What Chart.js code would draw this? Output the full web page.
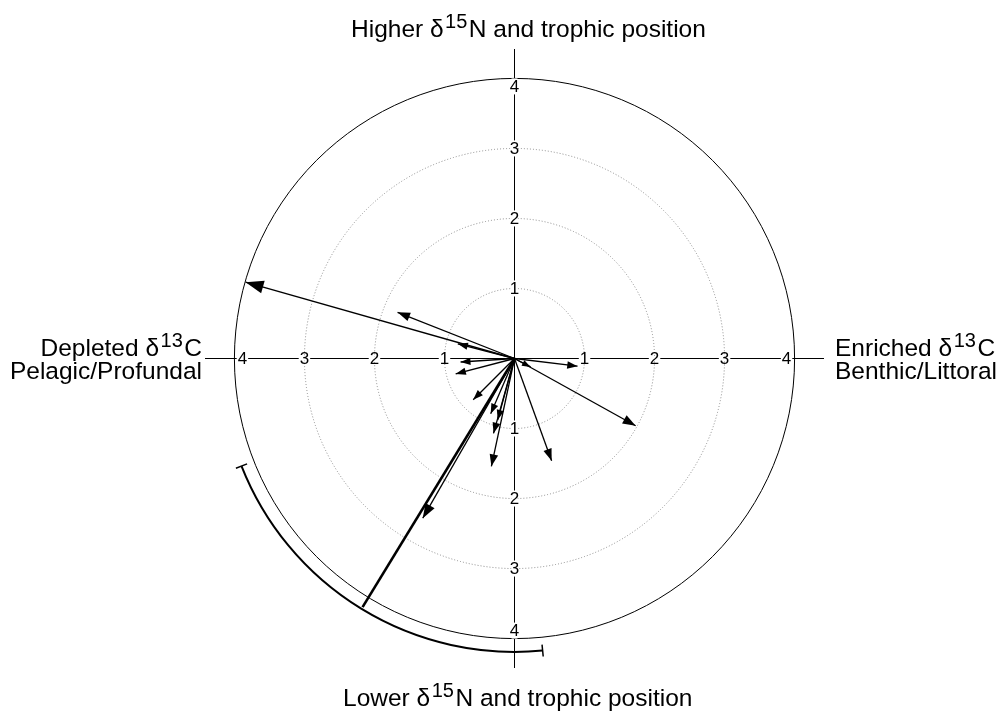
<!DOCTYPE html>
<html>
<head>
<meta charset="utf-8">
<script src="https://cdn.jsdelivr.net/npm/chart.js@4.4.1/dist/chart.umd.min.js"></script>
<style>
  html, body { margin: 0; padding: 0; background: #fff; }
  #wrap { width: 998px; height: 712px; }
</style>
</head>
<body>
<div id="wrap"><canvas id="chart" width="998" height="712"></canvas></div>
<script>
// --- data: arrow tips (x = d13C shift, y = d15N shift) ---
const arrowX = [-3.84, -1.67, -0.81, -0.77, -0.84, -0.59, -0.34, -0.24, -0.30, -0.33, 0.53, 0.90, 0.23, 1.73, -1.31];
const arrowY = [1.09, 0.66, 0.21, -0.05, -0.22, -0.59, -0.79, -0.88, -1.07, -1.54, -1.46, -0.11, -0.12, -0.96, -2.28];

// mean direction + its confidence arc
const meanX = -2.17;
const meanY = -3.55;
const arcRadius = 4.19;
const arcFromDeg = 201.5;
const arcToDeg = 275.5;

// rings and tick labels
const ringValues = [1, 2, 3, 4];
const tickLabels = ["1", "2", "3", "4"];
const axisMax = 4.42;

// direction labels (text, superscript, text)
const topLabel = ["Higher \u03b4", "15", "N and trophic position"];
const bottomLabel = ["Lower \u03b4", "15", "N and trophic position"];
const leftLabel = [["Depleted \u03b4", "13", "C"], ["Pelagic/Profundal", "", ""]];
const rightLabel = [["Enriched \u03b4", "13", "C"], ["Benthic/Littoral", "", ""]];

const FONT = '"Liberation Sans", Arial, sans-serif';

// --- datasets ---
const datasets = arrowX.map((x, i) => ({
  data: [{ x: 0, y: 0 }, { x, y: arrowY[i] }],
  showLine: true,
  borderColor: "#000",
  borderWidth: 1.3,
  pointRadius: 0,
  arrow: true
}));
datasets.push({
  data: [{ x: 0, y: 0 }, { x: meanX, y: meanY }],
  showLine: true,
  borderColor: "#000",
  borderWidth: 2.6,
  pointRadius: 0,
  arrow: false
});

// draw "text + superscript + text"
function richWidth(ctx, parts, size) {
  ctx.font = size + "px " + FONT;
  let w = ctx.measureText(parts[0]).width + ctx.measureText(parts[2]).width;
  ctx.font = Math.round(size * 0.8) + "px " + FONT;
  return w + ctx.measureText(parts[1]).width + (parts[1] ? 3 : 0);
}
function drawRich(ctx, parts, x, y, size, align) {
  const w = richWidth(ctx, parts, size);
  let cx = align === "right" ? x - w : align === "center" ? x - w / 2 : x;
  ctx.textAlign = "left";
  ctx.textBaseline = "alphabetic";
  ctx.fillStyle = "#000";
  ctx.font = size + "px " + FONT;
  ctx.fillText(parts[0], cx, y);
  cx += ctx.measureText(parts[0]).width + (parts[1] ? 1.5 : 0);
  ctx.font = Math.round(size * 0.8) + "px " + FONT;
  ctx.fillText(parts[1], cx, y - size * 0.38);
  cx += ctx.measureText(parts[1]).width + (parts[1] ? 1.5 : 0);
  ctx.font = size + "px " + FONT;
  ctx.fillText(parts[2], cx, y);
}

// rings, axes, tick labels
const gridPlugin = {
  id: "polarGrid",
  beforeDatasetsDraw(chart) {
    const { ctx, scales: { x, y } } = chart;
    const cx = x.getPixelForValue(0), cy = y.getPixelForValue(0);
    const unit = x.getPixelForValue(1) - cx;
    ctx.save();
    // axis lines
    ctx.strokeStyle = "#000";
    ctx.lineWidth = 1;
    ctx.beginPath();
    ctx.moveTo(x.getPixelForValue(-axisMax), cy);
    ctx.lineTo(x.getPixelForValue(axisMax), cy);
    ctx.moveTo(cx, y.getPixelForValue(axisMax));
    ctx.lineTo(cx, y.getPixelForValue(-axisMax));
    ctx.stroke();
    // rings
    ringValues.forEach((r, i) => {
      const last = i === ringValues.length - 1;
      ctx.beginPath();
      ctx.setLineDash(last ? [] : [1, 2]);
      ctx.strokeStyle = last ? "#000" : "#8a8a8a";
      ctx.lineWidth = 1;
      ctx.arc(cx, cy, r * unit, 0, Math.PI * 2);
      ctx.stroke();
    });
    ctx.setLineDash([]);
    // tick labels on all four half-axes
    ctx.font = "17px " + FONT;
    ctx.textAlign = "center";
    ctx.textBaseline = "middle";
    ringValues.forEach((r, i) => {
      const d = r * unit - (i === ringValues.length - 1 ? 8 : 0);
      const label = tickLabels[i];
      const tw = ctx.measureText(label).width;
      [[d, 0], [-d, 0], [0, -d], [0, d]].forEach(([ox, oy]) => {
        const px = cx + ox, py = cy + oy;
        ctx.fillStyle = "#fff";
        if (oy === 0) ctx.fillRect(px - tw / 2 - 1, py - 2, tw + 2, 4);
        else ctx.fillRect(px - 3, py - 8, 6, 16);
        ctx.fillStyle = "#000";
        ctx.fillText(label, px, py + 1);
      });
    });
    ctx.restore();
  },
  afterDatasetsDraw(chart) {
    const { ctx, scales: { x, y } } = chart;
    ctx.save();
    ctx.fillStyle = "#000";
    // arrow heads
    chart.data.datasets.forEach((ds, i) => {
      if (!ds.arrow) return;
      const pts = chart.getDatasetMeta(i).data;
      const p0 = pts[0], p1 = pts[1];
      const dx = p1.x - p0.x, dy = p1.y - p0.y;
      const len = Math.hypot(dx, dy);
      const ux = dx / len, uy = dy / len;
      const dl = Math.hypot(arrowX[i], arrowY[i]);
      const h = 8 + 2.5 * dl, w = h * 0.36;
      ctx.beginPath();
      ctx.moveTo(p1.x, p1.y);
      ctx.lineTo(p1.x - ux * h - uy * w, p1.y - uy * h + ux * w);
      ctx.lineTo(p1.x - ux * h + uy * w, p1.y - uy * h - ux * w);
      ctx.closePath();
      ctx.fill();
    });
    // confidence arc with end caps
    const cx = x.getPixelForValue(0), cy = y.getPixelForValue(0);
    const R = x.getPixelForValue(arcRadius) - cx;
    const a1 = -arcToDeg * Math.PI / 180, a2 = -arcFromDeg * Math.PI / 180;
    ctx.strokeStyle = "#000";
    ctx.lineWidth = 2;
    ctx.beginPath();
    ctx.arc(cx, cy, R, a1, a2, false);
    ctx.stroke();
    ctx.lineWidth = 1.5;
    [a1, a2].forEach(a => {
      ctx.beginPath();
      ctx.moveTo(cx + (R - 6) * Math.cos(a), cy + (R - 6) * Math.sin(a));
      ctx.lineTo(cx + (R + 6) * Math.cos(a), cy + (R + 6) * Math.sin(a));
      ctx.stroke();
    });
    ctx.restore();
  },
  afterDraw(chart) {
    const ctx = chart.ctx;
    ctx.save();
    drawRich(ctx, topLabel, 351, 37, 24.5, "left");
    drawRich(ctx, bottomLabel, 343, 706, 24.5, "left");
    drawRich(ctx, leftLabel[0], 202, 356, 24.5, "right");
    drawRich(ctx, leftLabel[1], 202, 379, 24.5, "right");
    drawRich(ctx, rightLabel[0], 835, 356, 24.5, "left");
    drawRich(ctx, rightLabel[1], 835, 379, 24.5, "left");
    ctx.restore();
  }
};

new Chart(document.getElementById("chart"), {
  type: "scatter",
  data: { datasets },
  options: {
    responsive: false,
    animation: false,
    layout: { padding: { left: 205, right: 174, top: 49, bottom: 44 } },
    plugins: { legend: { display: false }, tooltip: { enabled: false } },
    scales: {
      x: { type: "linear", min: -axisMax, max: axisMax, display: false },
      y: { type: "linear", min: -axisMax, max: axisMax, display: false }
    },
    elements: { line: { tension: 0, borderCapStyle: "butt" } }
  },
  plugins: [gridPlugin]
});
</script>
</body>
</html>
